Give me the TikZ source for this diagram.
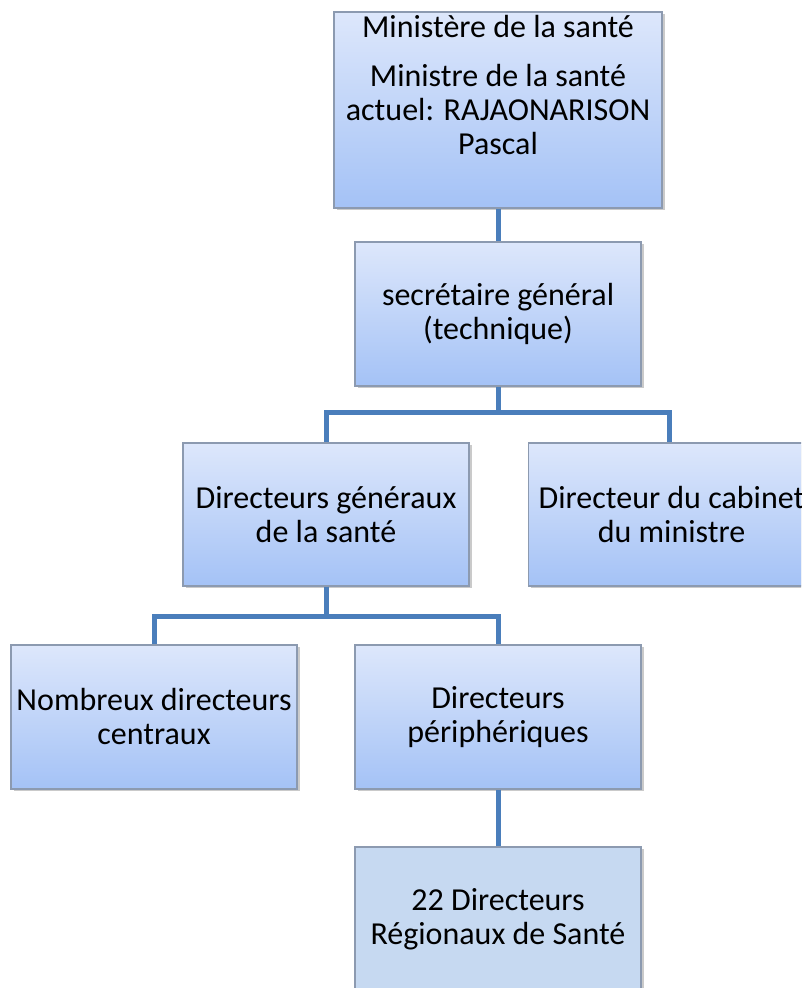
\documentclass[tikz,border=0pt]{standalone}
\usepackage{fontspec}
\setmainfont{Carlito}
\usetikzlibrary{shadows}
\definecolor{gtop}{HTML}{DDE7FB}
\definecolor{gbot}{HTML}{A4C2F6}
\definecolor{edge}{HTML}{8C9AB0}
\definecolor{link}{HTML}{4A7EBB}
\definecolor{flat}{HTML}{C6D9F1}
\begin{document}
\begin{tikzpicture}[x=1pt,y=1pt,
  box/.style={draw=edge, line width=1.2pt, top color=gtop, bottom color=gbot,
    minimum width=286pt, minimum height=144pt, align=center, inner sep=0pt,
    font=\fontsize{32}{34}\selectfont,
    drop shadow={shadow xshift=2.5pt, shadow yshift=-2.5pt, opacity=0.35, fill=black!60}},
  flatbox/.style={box, fill=flat, top color=flat, bottom color=flat, drop shadow={opacity=0}},
  conn/.style={draw=link, line width=5pt}]
\useasboundingbox (0,0) rectangle (801,988);
\clip (0,0) rectangle (801,988);
\node[box, minimum width=328pt, minimum height=196pt] (top) at (498,878) {Ministre de la santé\\actuel: RAJAONARISON\\Pascal};
\node[font=\fontsize{32}{34}\selectfont, anchor=center] (head) at (498,961) {Ministère de la santé};
\node[box] (sec) at (498,674) {secrétaire général\\(technique)};
\node[box, minimum height=143pt] (dg) at (326,473.5) {Directeurs généraux\\de la santé};
\node[box, minimum height=143pt] (cab) at (671.5,473.5) {Directeur du cabinet\\du ministre};
\node[box] (nom) at (154,271) {Nombreux directeurs\\centraux};
\node[box] (per) at (498,271) {Directeurs\\périphériques};
\node[flatbox] (reg) at (498,69) {22 Directeurs\\Régionaux de Santé};
\coordinate (j1) at (498,575);
\coordinate (j2) at (326,371);
\draw[conn] (top.south) -- (sec.north);
\draw[conn] (sec.south) -- (j1) -| ([xshift=-2pt]cab.north);
\draw[conn] (j1) -| (dg.north);
\draw[conn] (dg.south) -- (j2) -| (nom.north);
\draw[conn] (j2) -| (per.north);
\draw[conn] (per.south) -- (reg.north);
\end{tikzpicture}
\end{document}
